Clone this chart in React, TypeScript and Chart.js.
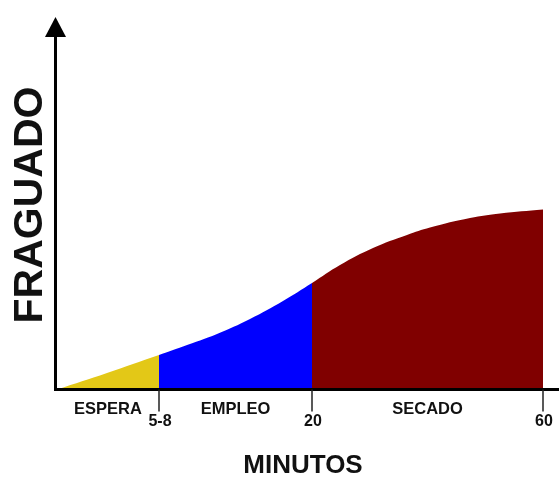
import React, { useEffect, useRef } from "react";
import { Chart, registerables } from "chart.js";

Chart.register(...registerables);

// Stage names and tick labels
const stageLabels = ["ESPERA", "EMPLEO", "SECADO"];
const tickLabels = ["5-8", "20", "60"];
// positions of the stage boundaries on the (non-linear) time axis, in axis units 0..100
const tickPositions = [20.4, 51, 97.2];

// Curve of setting (fraguado), per stage
const esperaX = [0, 10, 20.4];
const esperaY = [0, 4.43, 9.26];
const empleoX = [20.4, 25.2, 32, 38.6, 45.2, 51];
const empleoY = [9.26, 11.54, 14.9, 18.93, 23.76, 28.59];
const secadoX = [51, 56.6, 63.2, 70, 74.6, 82.6, 88.6, 97.2];
const secadoY = [28.59, 33.42, 37.99, 41.48, 43.49, 46.04, 47.25, 48.32];

const colors = ["#E3C817", "#0000FF", "#800000"];

const toPts = (xs: number[], ys: number[]) => xs.map((x, i) => ({ x, y: ys[i] }));

const FONT = '"Liberation Sans", Arial, sans-serif';

const axesPlugin = {
  id: "customAxes",
  afterDraw(chart: any) {
    const { ctx, chartArea, scales } = chart;
    const xs = scales.x;
    const left = chartArea.left;
    const bottom = chartArea.bottom;
    const top = chartArea.top;
    ctx.save();
    ctx.strokeStyle = "#000";
    ctx.fillStyle = "#000";
    // y axis line
    ctx.lineWidth = 3;
    ctx.beginPath();
    ctx.moveTo(left - 1.5, bottom + 1.5);
    ctx.lineTo(left - 1.5, top + 18);
    ctx.stroke();
    // arrow head
    ctx.beginPath();
    ctx.moveTo(left - 1.5, top);
    ctx.lineTo(left - 12, top + 20);
    ctx.lineTo(left + 9, top + 20);
    ctx.closePath();
    ctx.fill();
    // x axis line
    ctx.beginPath();
    ctx.moveTo(left - 3, bottom);
    ctx.lineTo(chart.width, bottom);
    ctx.stroke();
    // ticks
    ctx.strokeStyle = "#222";
    ctx.lineWidth = 1.5;
    tickPositions.forEach((p) => {
      const px = xs.getPixelForValue(p);
      ctx.beginPath();
      ctx.moveTo(px, bottom);
      ctx.lineTo(px, bottom + 22);
      ctx.stroke();
    });
    ctx.fillStyle = "#111";
    ctx.textAlign = "center";
    ctx.textBaseline = "middle";
    ctx.font = `bold 16px ${FONT}`;
    tickLabels.forEach((t, i) => {
      ctx.fillText(t, xs.getPixelForValue(tickPositions[i]) + 1, bottom + 32);
    });
    ctx.font = `bold 16.5px ${FONT}`;
    const bounds = [0, ...tickPositions];
    stageLabels.forEach((s, i) => {
      const mid = (bounds[i] + bounds[i + 1]) / 2;
      ctx.fillText(s, xs.getPixelForValue(mid), bottom + 20);
    });
    // axis titles
    ctx.font = `bold 26px ${FONT}`;
    ctx.fillText("MINUTOS", 303, bottom + 76);
    ctx.save();
    ctx.translate(31, 205);
    ctx.rotate(-Math.PI / 2);
    ctx.font = `bold 41px ${FONT}`;
    ctx.fillText("FRAGUADO", 0, 0);
    ctx.restore();
    ctx.restore();
  },
};

export default function App() {
  const ref = useRef<HTMLCanvasElement>(null);
  useEffect(() => {
    if (!ref.current) return;
    const series = [
      toPts(esperaX, esperaY),
      toPts(empleoX, empleoY),
      toPts(secadoX, secadoY),
    ];
    const chart = new Chart(ref.current, {
      type: "line",
      data: {
        datasets: series.map((d, i) => ({
          label: stageLabels[i],
          data: d,
          backgroundColor: colors[i],
          borderColor: colors[i],
          borderWidth: 0,
          pointRadius: 0,
          fill: "origin",
          tension: 0.4,
        })),
      },
      options: {
        animation: false,
        responsive: false,
        devicePixelRatio: 1,
        layout: { padding: { left: 57, right: 2, top: 17, bottom: 87.5 } },
        plugins: { legend: { display: false }, tooltip: { enabled: false } },
        scales: {
          x: { type: "linear", min: 0, max: 100, display: false },
          y: { type: "linear", min: 0, max: 100, display: false },
        },
      },
      plugins: [axesPlugin],
    });
    return () => chart.destroy();
  }, []);
  return (
    <div style={{ position: "fixed", left: 0, top: 0, width: 559, height: 477, background: "#fff" }}>
      <canvas ref={ref} width={559} height={477} style={{ width: 559, height: 477 }} />
    </div>
  );
}
